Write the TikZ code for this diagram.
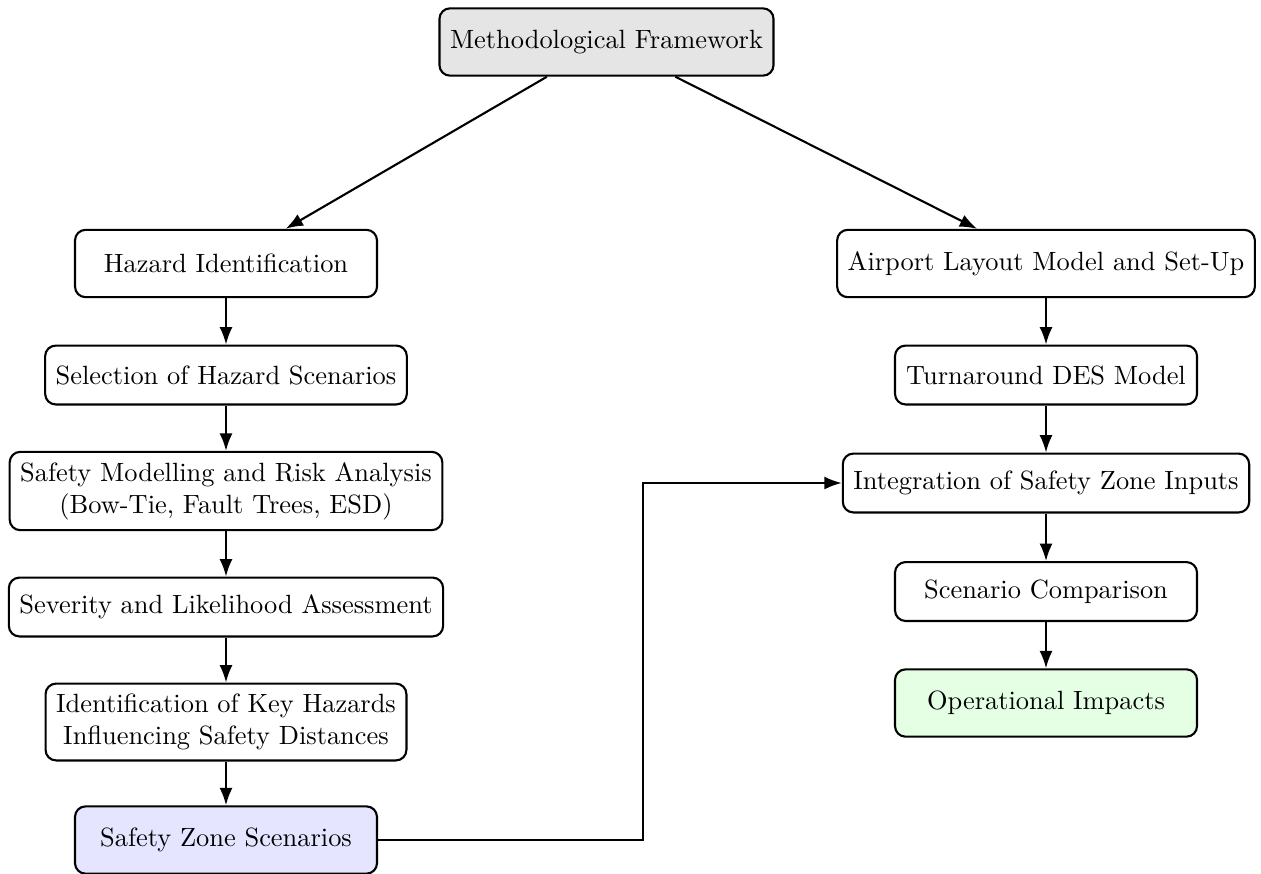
\documentclass[tikz,border=0pt]{standalone}
\usetikzlibrary{arrows.meta}
\begin{document}
\begin{tikzpicture}[
  x=0.3788pt, y=-0.3788pt,
  box/.style={draw, thick, rounded corners=4pt, align=center, inner sep=4pt,
              minimum width=114.4pt, minimum height=22.3pt},
  tallbox/.style={box, minimum height=25.5pt},
  flow/.style={-{Latex}, thick}
]
\useasboundingbox (0,0) rectangle (1261,873);

% root
\node[tallbox, fill=gray!20] (top) at (606.5,42) {Methodological Framework};

% left column: hazard analysis
\node[tallbox] (haz) at (226,263.5) {Hazard Identification};
\node[box] (sel) at (226,375) {Selection of Hazard Scenarios};
\node[box] (mod) at (226,491) {Safety Modelling and Risk Analysis\\(Bow-Tie, Fault Trees, ESD)};
\node[box] (sev) at (226,607) {Severity and Likelihood Assessment};
\node[box] (key) at (226,722) {Identification of Key Hazards\\Influencing Safety Distances};
\node[tallbox, fill=blue!10] (sz) at (226,840) {Safety Zone Scenarios};

% right column: simulation
\node[tallbox] (air) at (1046,263.5) {Airport Layout Model and Set-Up};
\node[box] (tur) at (1046,375) {Turnaround DES Model};
\node[box] (int) at (1046,483) {Integration of Safety Zone Inputs};
\node[box] (cmp) at (1046,591.5) {Scenario Comparison};
\node[tallbox, fill=green!10] (op) at (1046,703) {Operational Impacts};

% connectors
\draw[flow] (top) -- (haz);
\draw[flow] (top) -- (air);
\draw[flow] (haz) -- (sel);
\draw[flow] (sel) -- (mod);
\draw[flow] (mod) -- (sev);
\draw[flow] (sev) -- (key);
\draw[flow] (key) -- (sz);
\draw[flow] (air) -- (tur);
\draw[flow] (tur) -- (int);
\draw[flow] (int) -- (cmp);
\draw[flow] (cmp) -- (op);
\draw[flow] (sz.east) -- ++(265,0) |- (int.west);
\end{tikzpicture}
\end{document}
